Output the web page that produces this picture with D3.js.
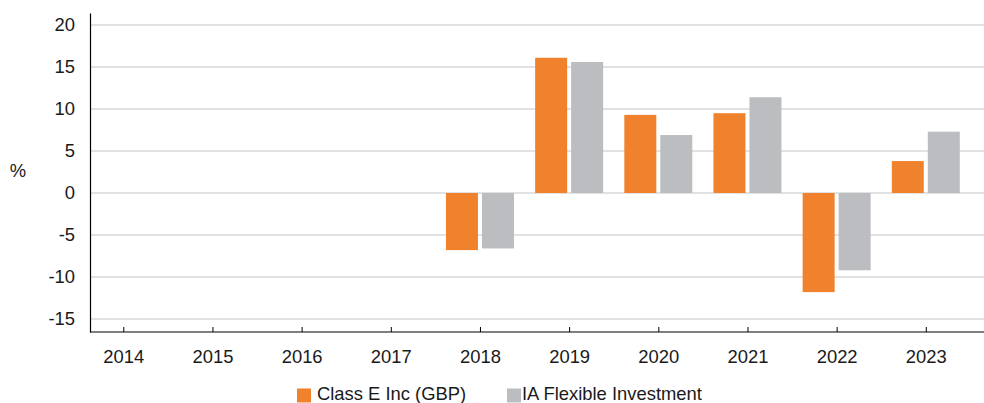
<!DOCTYPE html>
<html><head><meta charset="utf-8">
<script src="https://cdn.jsdelivr.net/npm/d3@7/dist/d3.min.js"></script>
<style>body{margin:0;background:#fff}svg{display:block}text{font-family:"Liberation Sans",Arial,sans-serif;fill:#1a1a1a}</style>
</head><body>
<svg id="c" width="984" height="403"></svg>
<script>
const years = ["2014","2015","2016","2017","2018","2019","2020","2021","2022","2023"];
const classE = [null,null,null,null,-6.8,16.1,9.3,9.5,-11.8,3.8];
const iaFlex = [null,null,null,null,-6.6,15.6,6.9,11.4,-9.2,7.3];
const yTicks = [20,15,10,5,0,-5,-10,-15];
const seriesNames = ["Class E Inc (GBP)","IA Flexible Investment"];
const colors = ["#F0822D","#BCBDC0"];

const svg = d3.select("#c");
const W = 984, mLeft = 90, mTop = 13, mBottom = 332;
const fs = 18.4;
const y = d3.scaleLinear().domain([-16.55, 21.43]).range([mBottom, mTop]);
const x = d3.scalePoint().domain(years).range([123.3, 925.8]);

// gridlines
svg.append("g").selectAll("line").data(yTicks).join("line")
  .attr("x1", mLeft).attr("x2", W).attr("y1", d => y(d)).attr("y2", d => y(d))
  .attr("stroke", "#d9d9d9").attr("stroke-width", 1.5);

// bars
const series = [classE, iaFlex];
const bw = 32, gap = 4;
series.forEach((vals, si) => {
  svg.append("g").selectAll("rect")
    .data(years.map((yr, i) => ({yr, v: vals[i]})).filter(d => d.v !== null))
    .join("rect")
    .attr("x", d => si === 0 ? x(d.yr) - gap/2 - bw : x(d.yr) + gap/2)
    .attr("width", bw)
    .attr("y", d => y(Math.max(0, d.v)))
    .attr("height", d => Math.abs(y(d.v) - y(0)))
    .attr("fill", colors[si]);
});

// y axis
const ya = d3.axisLeft(y).tickValues(yTicks).tickFormat(d => String(d)).tickSize(0).tickPadding(15);
const yg = svg.append("g").attr("transform", `translate(${mLeft},0)`).call(ya);
yg.select(".domain").attr("stroke", "#000").attr("stroke-width", 1.2);
yg.selectAll("text").attr("font-size", fs).attr("fill", "#1a1a1a")
  .attr("font-family", '"Liberation Sans",Arial,sans-serif');

// x axis
const xa = d3.axisBottom(x).tickSize(-5).tickPadding(0).tickSizeOuter(0);
const xg = svg.append("g").attr("transform", `translate(0,${mBottom})`).call(xa);
xg.select(".domain").remove();
xg.append("line").attr("x1", mLeft).attr("x2", W).attr("y1", 0).attr("y2", 0)
  .attr("stroke", "#000").attr("stroke-width", 1.2);
xg.selectAll(".tick line").attr("stroke", "#000");
xg.selectAll("text").attr("font-size", fs).attr("fill", "#1a1a1a")
  .attr("font-family", '"Liberation Sans",Arial,sans-serif')
  .attr("dy", null).attr("y", 31);

// % label
svg.append("text").attr("x", 18).attr("y", 177).attr("text-anchor", "middle")
  .attr("font-size", fs).text("%");

// legend
const lg = [{x: 297, tx: 317}, {x: 507, tx: 522}];
seriesNames.forEach((n, i) => {
  svg.append("rect").attr("x", lg[i].x).attr("y", 388.5).attr("width", 14).attr("height", 14).attr("fill", colors[i]);
  svg.append("text").attr("x", lg[i].tx).attr("y", 400).attr("font-size", fs).text(n);
});
</script>
</body></html>
